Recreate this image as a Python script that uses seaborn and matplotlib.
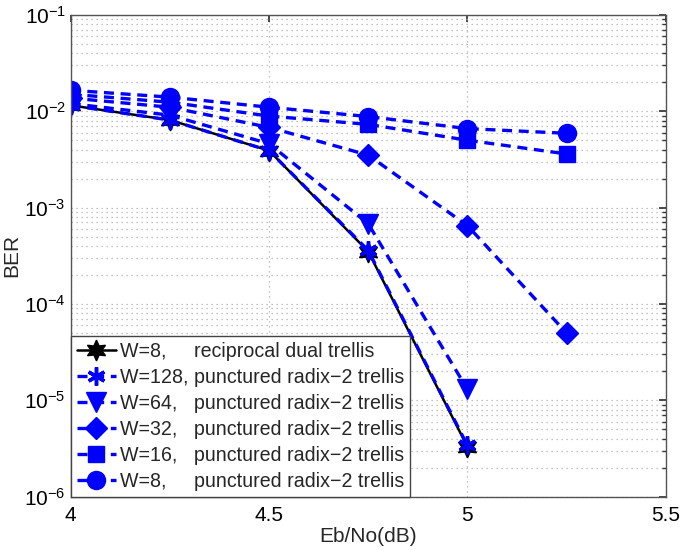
import numpy as np
import pandas as pd
import matplotlib
matplotlib.use("Agg")
import matplotlib.pyplot as plt
import seaborn as sns
from matplotlib.ticker import LogLocator, NullFormatter, FixedLocator

sns.set_theme(style="white")
plt.rcParams['font.family'] = ['Liberation Sans', 'DejaVu Sans']
plt.rcParams['mathtext.default'] = 'regular'
plt.rcParams['axes.unicode_minus'] = True

# ---- data ----
ebno = [4.0, 4.25, 4.5, 4.75, 5.0, 5.25]
ber_w8_dual = [1.15e-2, 8.1e-3, 3.9e-3, 3.5e-4, 3.3e-6]
ber_w128 = [1.15e-2, 8.1e-3, 3.9e-3, 3.6e-4, 3.4e-6]
ber_w64 = [1.2e-2, 9.1e-3, 4.6e-3, 6.8e-4, 1.3e-5]
ber_w32 = [1.37e-2, 1.1e-2, 6.8e-3, 3.5e-3, 6.5e-4, 5.0e-5]
ber_w16 = [1.5e-2, 1.24e-2, 8.9e-3, 7.3e-3, 5.0e-3, 3.6e-3]
ber_w8_punc = [1.65e-2, 1.4e-2, 1.1e-2, 8.8e-3, 6.6e-3, 5.9e-3]

labels = [
    "W=8,     reciprocal dual trellis",
    "W=128, punctured radix\u22122 trellis",
    "W=64,   punctured radix\u22122 trellis",
    "W=32,   punctured radix\u22122 trellis",
    "W=16,   punctured radix\u22122 trellis",
    "W=8,     punctured radix\u22122 trellis",
]
x_ticks = [4, 4.5, 5, 5.5]

fig = plt.figure(figsize=(6.8, 5.5), dpi=100)
ax = fig.add_axes([0.104, 0.097, 0.875, 0.876])

blue = "#0000ff"
series = [
    (ber_w8_dual, "black", "-", (6, 1, 0), 15, 1.8),
    (ber_w128, blue, "--", (6, 2, 0), 13, 2.4),
    (ber_w64, blue, "--", "v", 14, 2.4),
    (ber_w32, blue, "--", "D", 11, 2.4),
    (ber_w16, blue, "--", "s", 12, 2.4),
    (ber_w8_punc, blue, "--", "o", 13, 2.4),
]

for (vals, col, ls, mk, ms, lw), lab in zip(series, labels):
    df = pd.DataFrame({"x": ebno[:len(vals)], "y": vals})
    sns.lineplot(data=df, x="x", y="y", ax=ax, color=col, linestyle=ls,
                 marker=mk, markersize=ms, linewidth=lw, label=lab,
                 markeredgecolor=col, markerfacecolor=col,
                 markeredgewidth=2.5 if mk == (6, 2, 0) else 1)

for l in ax.get_lines():
    if l.get_linestyle() == "--":
        l.set_dashes((3, 2))

ax.set_yscale("log")
ax.set_xlim(4, 5.5)
ax.set_ylim(1e-6, 1e-1)
ax.xaxis.set_major_locator(FixedLocator(x_ticks))
ax.set_xticklabels(["4", "4.5", "5", "5.5"])
ax.yaxis.set_major_locator(LogLocator(base=10, numticks=10))
ax.yaxis.set_minor_locator(LogLocator(base=10, subs=np.arange(2, 10), numticks=100))
ax.yaxis.set_minor_formatter(NullFormatter())

ax.grid(True, which="major", axis="both", color="#b0b0b0", linestyle=(0, (1, 3)), linewidth=0.9)
ax.grid(True, which="minor", axis="y", color="#b0b0b0", linestyle=(0, (1, 3)), linewidth=0.9)

ax.tick_params(axis="both", which="both", direction="in", top=True, right=True,
               labelsize=15, colors="#333333", labelcolor="black")
ax.tick_params(which="major", length=5)
ax.tick_params(which="minor", length=3)
ax.tick_params(axis="x", pad=7)
for s in ax.spines.values():
    s.set_color("#555555")
    s.set_linewidth(1.0)

ax.set_xlabel("Eb/No(dB)", fontsize=15, labelpad=1)
ax.set_ylabel("BER", fontsize=15, labelpad=2)

leg = ax.legend(loc="lower left", borderaxespad=0, fontsize=14.1, frameon=True,
                fancybox=False, edgecolor="#444444", handlelength=2.0,
                handletextpad=0.2, labelspacing=0.36, borderpad=0.3,
                framealpha=1)
leg.get_frame().set_linewidth(1.0)

fig.savefig("out.png", dpi=100)
